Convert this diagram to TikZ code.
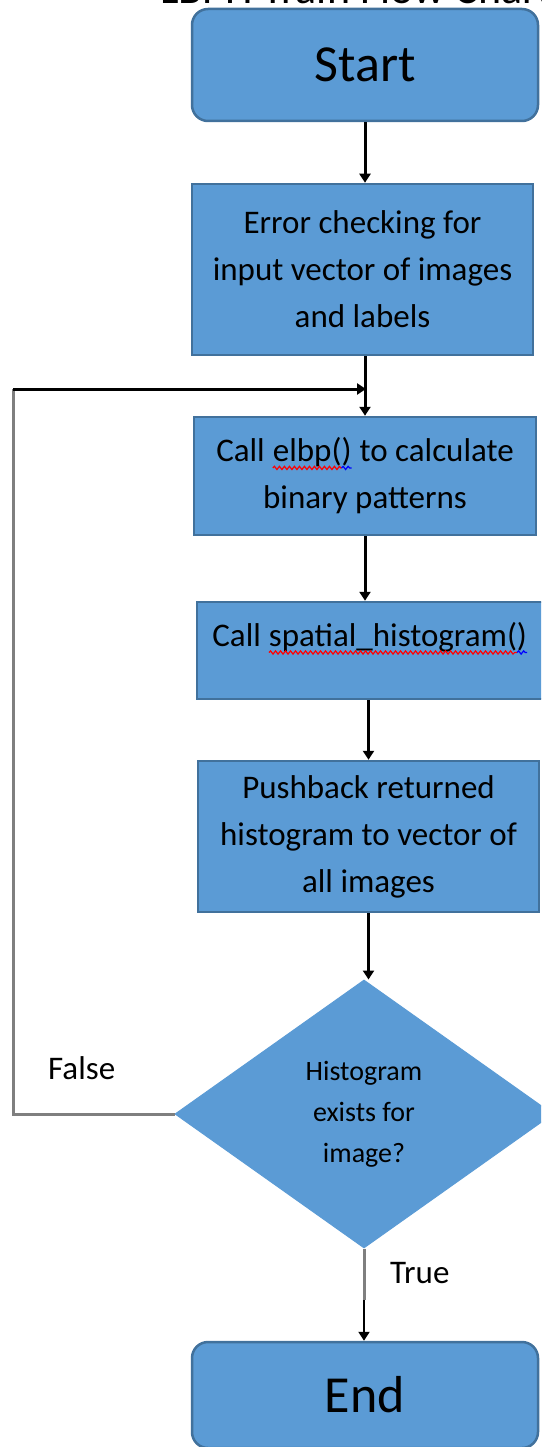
\documentclass[tikz,border=0pt]{standalone}
\usepackage{fontspec}
\setmainfont{Carlito}
\usetikzlibrary{shapes.geometric,arrows.meta,decorations.pathmorphing}
\definecolor{boxfill}{HTML}{5B9BD5}
\definecolor{boxline}{HTML}{41719C}
\definecolor{loopgray}{HTML}{7F7F7F}
\tikzset{
  box/.style={draw=boxline, fill=boxfill, line width=2.5pt, inner sep=0pt, align=center,
    font=\fontsize{33}{47}\selectfont},
  term/.style={box, rounded corners=16pt, font=\fontsize{52}{58}\selectfont},
  decision/.style={diamond, draw=boxfill, fill=boxfill, line width=1pt, inner sep=0pt, align=center,
    minimum width=378pt, minimum height=268pt, shape aspect=1.41,
    font=\fontsize{28}{41}\selectfont},
  arr/.style={line width=3pt, -{Triangle[width=11pt,length=9pt]}},
  grayline/.style={line width=3pt, draw=loopgray},
  lbl/.style={font=\fontsize{33}{36}\selectfont, inner sep=0pt},
  squig/.style={line width=1.2pt, decorate, decoration={snake, amplitude=1.6pt, segment length=5pt}},
  plainword/.style={inner sep=0pt, outer sep=0pt, minimum width=0pt, minimum height=0pt,
    draw=none, fill=none, rounded corners=0pt, shape=rectangle}
}
\newcommand\spellmark[1]{\tikz[baseline=(w.base),x=1pt,y=1pt]{\node[plainword](w){#1};
  \draw[squig,draw=red] ([yshift=-6pt]w.base west) -- ([yshift=-6pt,xshift=-10pt]w.base east);
  \draw[squig,draw=blue] ([yshift=-6pt,xshift=-10pt]w.base east) -- ([yshift=-6pt]w.base east);}}
\begin{document}
\begin{tikzpicture}[x=1pt,y=-1pt]
\clip (0,0) rectangle (541,1447);
\useasboundingbox (0,0) rectangle (541,1447);
\node[anchor=base west, font=\fontsize{44}{50}\selectfont, inner sep=0pt] (title) at (160,3.5) {LBPH Train Flow Chart};
\node[term, minimum width=346pt, minimum height=112pt] (start) at (365,65) {Start};
\node[box, minimum width=341pt, minimum height=171pt] (err) at (362.5,269.5) {Error checking for\\input vector of images\\and labels};
\node[box, minimum width=342pt, minimum height=118pt] (elbp) at (365,476) {Call \spellmark{elbp()} to calculate\\binary patterns};
\node[box, minimum width=346pt, minimum height=97pt] (spat) at (370,650.5) {\raisebox{4pt}[0pt][0pt]{Call \spellmark{spatial\_histogram()}}};
\node[box, minimum width=341pt, minimum height=151pt] (push) at (368.5,836.5) {Pushback returned\\histogram to vector of\\all images};
\node[decision] (dia) at (364,1114) {Histogram\\exists for\\image?};
\node[term, minimum width=346pt, minimum height=106pt] (end) at (365,1395) {End};
\node[lbl, anchor=base west] (false) at (48,1079) {False};
\node[lbl, anchor=base west] (true) at (390,1283) {True};
% connectors
\draw[arr] (start.south) -- (err.north -| start.south);
\draw[arr] (elbp.north |- err.south) -- (elbp.north);
\draw[arr] (elbp.south) -- (elbp.south |- spat.north);
\draw[arr] (push.north |- spat.south) -- (push.north);
\draw[arr] (push.south) -- (push.south |- dia.north);
\coordinate (lb) at (13,1114);
\coordinate (lt) at (13,389);
\coordinate (lj) at (366,389);
\draw[grayline] (dia.west) -- (lb) -- (lt);
\draw[arr] (lt) -- (lj);
\draw[grayline] (dia.south) -- (dia.south |- 0,1300);
\draw[arr, line width=2pt] (dia.south |- 0,1300) -- (end.north -| dia.south);
\end{tikzpicture}
\end{document}
